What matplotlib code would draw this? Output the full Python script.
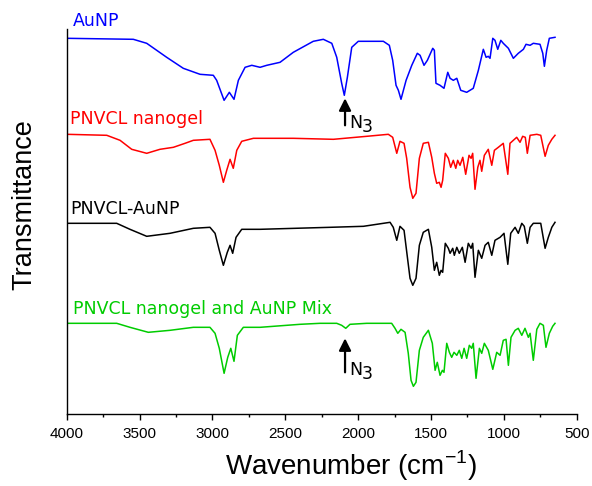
import matplotlib
matplotlib.use("Agg")
import matplotlib.pyplot as plt
from matplotlib.ticker import MultipleLocator

# FTIR spectra, stacked (wavenumber in cm-1, transmittance in arb. units incl. offset)
wn_aunp = [4000, 3543, 3451, 3314, 3200, 3085, 2994, 2971, 2920, 2884, 2852, 2822,
           2776, 2730, 2673, 2627, 2536, 2445, 2308, 2239, 2181, 2147, 2113, 2095,
           2074, 2044, 1999, 1827, 1786, 1763, 1740, 1724, 1706, 1671, 1632, 1594,
           1575, 1548, 1525, 1488, 1477, 1466, 1438, 1411, 1385, 1369, 1347, 1323,
           1296, 1255, 1210, 1175, 1141, 1122, 1107, 1095, 1076, 1061, 1042, 1021,
           1004, 969, 935, 901, 866, 848, 820, 798, 752, 733, 722, 706, 688, 649]
t_aunp = [376, 375, 371, 357, 346, 340, 339, 334, 314, 322, 315, 334,
          347, 349, 347, 349, 352, 362, 373, 375, 371, 357, 331, 319,
          337, 367, 373, 373, 369, 354, 329, 324, 315, 334, 349, 361,
          359, 349, 354, 366, 364, 331, 329, 326, 342, 336, 334, 336,
          324, 322, 326, 344, 365, 357, 358, 356, 376, 374, 365, 374,
          371, 366, 356, 361, 365, 370, 369, 371, 370, 361, 348, 364, 376, 377]

wn_gel = [4000, 3725, 3634, 3554, 3451, 3360, 3268, 3188, 3131, 3017, 2982, 2953,
          2925, 2902, 2879, 2857, 2833, 2799, 2719, 2445, 2170, 1941, 1793, 1763,
          1735, 1713, 1685, 1667, 1644, 1625, 1603, 1580, 1553, 1518, 1495, 1477,
          1461, 1443, 1431, 1420, 1402, 1381, 1365, 1347, 1330, 1317, 1301, 1282,
          1262, 1239, 1225, 1214, 1198, 1179, 1164, 1152, 1134, 1107, 1083, 1065,
          1038, 1004, 973, 958, 935, 912, 889, 871, 853, 839, 820, 774, 747, 717,
          695, 671, 649]
t_gel = [280, 279, 274, 265, 261, 265, 267, 271, 274, 275, 264, 249,
         232, 244, 255, 246, 264, 273, 276, 276, 275, 278, 280, 277,
         261, 273, 271, 256, 227, 216, 221, 256, 271, 272, 257, 241,
         231, 232, 227, 234, 261, 256, 247, 254, 246, 254, 249, 257,
         240, 259, 256, 261, 225, 247, 254, 243, 259, 265, 249, 264,
         267, 271, 240, 271, 274, 277, 272, 278, 277, 261, 279, 280, 279, 258,
         269, 275, 279]

wn_gel_aunp = [4000, 3657, 3566, 3451, 3291, 3131, 3017, 2982, 2953, 2925, 2898, 2879,
               2861, 2838, 2799, 2673, 2193, 1964, 1781, 1759, 1735, 1713, 1685, 1662,
               1644, 1625, 1603, 1580, 1553, 1518, 1495, 1477, 1461, 1443, 1431, 1420,
               1402, 1381, 1369, 1351, 1340, 1323, 1306, 1285, 1266, 1244, 1225, 1214,
               1198, 1175, 1152, 1129, 1107, 1083, 1061, 1026, 999, 973, 953, 923,
               901, 877, 860, 839, 820, 798, 747, 717, 695, 678, 671, 649]
t_gel_aunp = [191, 191, 185, 178, 181, 186, 187, 181, 164, 149, 162, 169,
              161, 177, 185, 185, 187, 188, 192, 187, 174, 188, 184, 157,
              136, 129, 136, 169, 182, 185, 167, 144, 152, 139, 144, 142,
              171, 166, 161, 166, 159, 167, 161, 167, 152, 171, 166, 171,
              137, 164, 156, 169, 172, 159, 174, 177, 181, 150, 181, 187,
              181, 191, 188, 171, 187, 191, 191, 166, 177, 184, 187, 192]

wn_mix = [4000, 3657, 3566, 3440, 3291, 3131, 3017, 2982, 2953, 2920, 2895, 2874,
          2852, 2829, 2788, 2673, 2399, 2262, 2147, 2113, 2085, 2056, 1941, 1770,
          1747, 1728, 1706, 1678, 1656, 1637, 1621, 1603, 1580, 1553, 1518, 1491,
          1472, 1457, 1438, 1422, 1411, 1392, 1374, 1358, 1342, 1323, 1306, 1289,
          1273, 1255, 1237, 1221, 1210, 1191, 1168, 1152, 1134, 1107, 1076, 1049,
          1026, 1004, 985, 969, 951, 923, 901, 877, 855, 832, 820, 798, 774, 752,
          729, 711, 688, 665, 649]
t_mix = [91, 91, 87, 82, 84, 87, 87, 81, 66, 41, 57, 66,
         53, 79, 87, 87, 90, 91, 91, 89, 86, 90, 91, 91,
         86, 81, 85, 82, 61, 34, 28, 32, 64, 77, 84, 71,
         44, 52, 39, 44, 42, 71, 62, 57, 62, 59, 64, 56,
         66, 56, 69, 66, 71, 36, 66, 61, 71, 64, 45, 62,
         59, 74, 75, 49, 77, 84, 86, 79, 86, 77, 81, 54, 85, 91,
         89, 67, 81, 88, 91]

spectra = [
    ("AuNP", wn_aunp, t_aunp, "#0000ff", (3960, 393)),
    ("PNVCL nanogel", wn_gel, t_gel, "#ff0000", (3977, 295)),
    ("PNVCL-AuNP", wn_gel_aunp, t_gel_aunp, "#000000", (3977, 205)),
    ("PNVCL nanogel and AuNP Mix", wn_mix, t_mix, "#00cc00", (3957, 105)),
]

# azide band markers: (wavenumber, arrow tail, arrow tip)
azide_marks = [(2090, 289, 316), (2090, 42, 76)]

fig = plt.figure(figsize=(5.92, 4.86), dpi=100)
ax = fig.add_axes([0.1127, 0.1475, 0.8615, 0.7922])

for name, wn, t, color, (lx, ly) in spectra:
    ax.plot(wn, t, color=color, lw=1.1)
    ax.text(lx, ly, name, color=color, fontsize=12.5, family="DejaVu Sans",
            va="center", ha="left", clip_on=False)

for x, tail, tip in azide_marks:
    ax.annotate("", xy=(x, tip), xytext=(x, tail),
                arrowprops=dict(arrowstyle="-|>,head_length=0.6,head_width=0.3",
                                color="black", lw=1.6, mutation_scale=12,
                                shrinkA=0, shrinkB=0))
    ax.text(x - 27, tail + 2, "N", fontsize=12.5, family="DejaVu Sans",
            va="center", ha="left")
    ax.text(x - 115, tail - 2, "3", fontsize=12.5, family="DejaVu Sans",
            va="center", ha="left")

ax.set_xlim(4000, 500)
ax.set_ylim(0, 385)
ax.xaxis.set_major_locator(MultipleLocator(500))
ax.xaxis.set_minor_locator(MultipleLocator(250))
ax.set_yticks([])
for side in ("top", "right"):
    ax.spines[side].set_visible(False)
for side in ("left", "bottom"):
    ax.spines[side].set_linewidth(1.0)
ax.tick_params(axis="x", which="major", direction="out", length=4, width=1.0,
               labelsize=11, pad=5)
ax.tick_params(axis="x", which="minor", direction="out", length=2.5, width=1.0)
for lbl in ax.get_xticklabels():
    lbl.set_family("Liberation Sans")

fig.text(0.593, 0.041, r"Wavenumber (cm$^{\mathregular{-1}}$)", fontsize=20,
         family="Liberation Sans", ha="center", va="center")
fig.text(0.0405, 0.58, "Transmittance", fontsize=19.5, family="Liberation Sans",
         rotation=90, ha="center", va="center")

fig.savefig("out.png", dpi=100)
